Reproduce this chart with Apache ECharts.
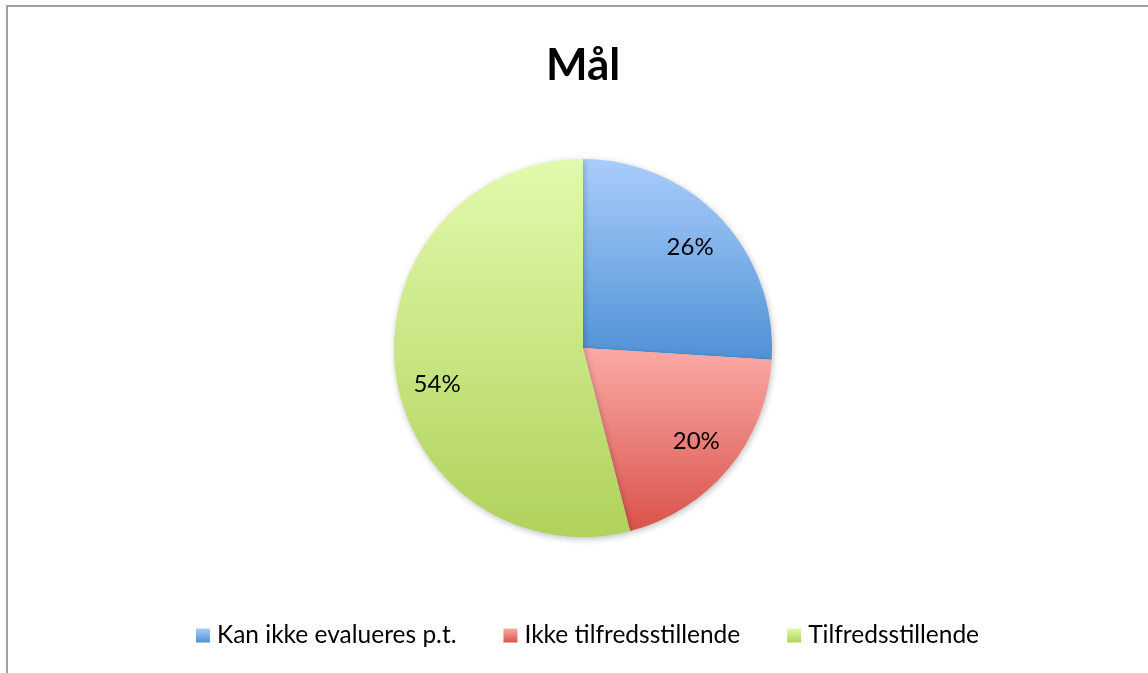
<!DOCTYPE html>
<html><head><meta charset="utf-8">
<script src="https://cdn.jsdelivr.net/npm/echarts@6/dist/echarts.min.js"></script>
<style>
html,body{margin:0;padding:0;background:#fff;overflow:hidden}
#frame{position:absolute;left:6px;top:5px;width:1160px;height:700px;border:2px solid #a0a0a0;box-sizing:border-box}
#c{position:absolute;left:0;top:0;width:1148px;height:673px}
</style></head>
<body><div id="frame"></div><div id="c"></div>
<script>
const categories = ['Kan ikke evalueres p.t.', 'Ikke tilfredsstillende', 'Tilfredsstillende'];
const values = [26, 20, 54];
const titleText = 'Mål';
const gradTop = ['#aacdfb', '#fbaaa6', '#e2faad'];
const gradBottom = ['#4f91d6', '#d9534b', '#afd25a'];
const labelShiftY = [0, 0, 18];

const chart = echarts.init(document.getElementById('c'), null, {renderer:'canvas'});
const font = 'Lato, "Open Sans", sans-serif';
const grad = i => new echarts.graphic.LinearGradient(0,0,0,1,[{offset:0,color:gradTop[i]},{offset:1,color:gradBottom[i]}]);
chart.setOption({
  animation:false,
  title:{text:titleText,left:541,top:39,textStyle:{fontFamily:font,fontWeight:'bold',fontSize:44,color:'#000'}},
  legend:{bottom:20,left:191,itemWidth:14,itemHeight:14,itemGap:47,icon:'rect',
    textStyle:{fontFamily:font,fontSize:24.5,color:'#000',padding:[0,0,0,2]},
    data:categories.map((n,i)=>({name:n,itemStyle:{color:grad(i)}}))},
  series:[{
    type:'pie',center:[583,348],radius:[0,189],startAngle:90,clockwise:true,
    label:{show:false},labelLine:{show:false},
    itemStyle:{shadowBlur:6,shadowColor:'rgba(0,0,0,0.25)',shadowOffsetX:1,shadowOffsetY:2},
    emphasis:{disabled:true},
    data:categories.map((n,i)=>({name:n,value:values[i],itemStyle:{color:grad(i)}}))
  },{
    type:'pie',center:[583,348],radius:[100,188],startAngle:90,clockwise:true,silent:true,
    legendHoverLink:false,
    itemStyle:{color:'rgba(0,0,0,0)'},
    label:{show:true,position:'inside',formatter:'{d}%',fontFamily:font,fontSize:24,color:'#000'},
    labelLine:{show:false},
    data:categories.map((n,i)=>({name:n+' ',value:values[i],label:{offset:[0,labelShiftY[i]]}}))
  }]
});
</script></body></html>
